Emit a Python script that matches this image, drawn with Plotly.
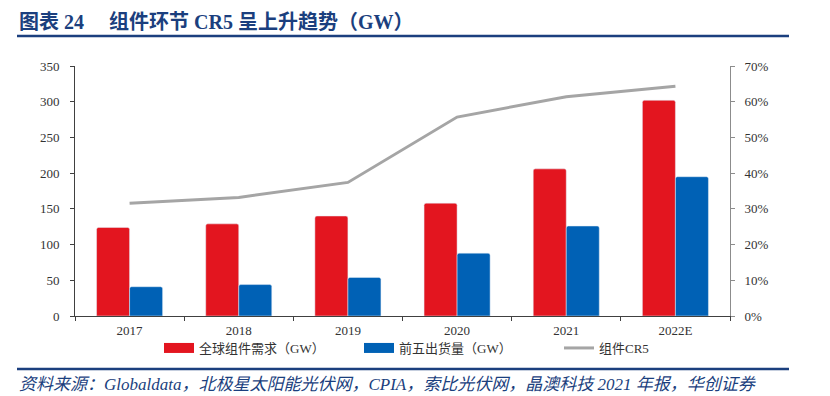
import plotly.graph_objects as go

years = ["2017", "2018", "2019", "2020", "2021", "2022E"]
demand = [124, 129, 140, 158, 206, 302]        # 全球组件需求（GW）
top5 = [41, 44, 54, 88, 126, 195]              # 前五出货量（GW）
cr5 = [0.316, 0.332, 0.374, 0.557, 0.614, 0.643]  # 组件CR5

name_demand = "全球组件需求（GW）"
name_top5 = "前五出货量（GW）"
name_cr5 = "组件CR5"

RED = "#E3151F"
BLUE = "#0061B5"
GRAY = "#A5A5A5"
NAVY = "#1B3F7E"
SERIF = "Liberation Serif, 'Noto Sans CJK SC', serif"

# page body has an 8px margin; positions below are in screenshot pixels
OFF = 8
W, H = 830 - OFF, 396 - OFF
L, R, T, B = 75 - OFF, 730 - OFF, 66 - OFF, 316 - OFF
def px(x):
    return (x - OFF - L) / (R - L)
def py(y):
    return (B - (y - OFF)) / (B - T)

fig = go.Figure()
fig.add_trace(go.Bar(x=years, y=demand, name=name_demand, marker=dict(color=RED, cornerradius=2),
                     showlegend=False))
fig.add_trace(go.Bar(x=years, y=top5, name=name_top5, marker=dict(color=BLUE, cornerradius=2),
                     showlegend=False))
fig.add_trace(go.Scatter(x=years, y=cr5, name=name_cr5, yaxis="y2", mode="lines",
                         line=dict(color=GRAY, width=3), showlegend=False))
# legend proxies (wide swatches like the original)
fig.add_trace(go.Scatter(x=[None], y=[None], name=name_demand, mode="lines",
                         line=dict(color=RED, width=10)))
fig.add_trace(go.Scatter(x=[None], y=[None], name=name_top5, mode="lines",
                         line=dict(color=BLUE, width=10)))
fig.add_trace(go.Scatter(x=[None], y=[None], name=name_cr5, mode="lines",
                         line=dict(color=GRAY, width=3)))

fig.update_layout(
    width=W, height=H,
    margin=dict(l=L, r=W - R, t=T, b=H - B, pad=0),
    paper_bgcolor="white", plot_bgcolor="white",
    barmode="group", bargap=0.395, bargroupgap=0,
    font=dict(family=SERIF, size=13, color="#333333"),
    xaxis=dict(showline=True, linecolor="#404040", linewidth=1, ticks="outside",
               tickson="boundaries", ticklen=4, tickcolor="#404040", ticklabelstandoff=2,
               tickfont=dict(size=13, color="#333333"), showgrid=False),
    yaxis=dict(range=[0, 350], dtick=50, showline=True, linecolor="#404040", linewidth=1,
               ticks="outside", ticklen=4, tickcolor="#404040", showgrid=False,
               zeroline=False, ticklabelstandoff=8, tickfont=dict(size=13, color="#333333")),
    yaxis2=dict(range=[0, 0.7], dtick=0.1, tickformat=".0%", overlaying="y", side="right",
                showline=True, linecolor="#8C8C8C", linewidth=1, ticks="outside", ticklen=4,
                tickcolor="#8C8C8C", showgrid=False, zeroline=False, ticklabelstandoff=7,
                tickfont=dict(size=13, color="#333333")),
    legend=dict(orientation="h", x=px(159), xanchor="left", y=py(348), yanchor="middle",
                font=dict(family=SERIF, size=13, color="#333333"), entrywidth=155,
                itemwidth=30, bgcolor="rgba(0,0,0,0)", tracegroupgap=0),
    showlegend=True,
)

fig.add_annotation(xref="paper", yref="paper", x=px(17), y=py(22), xanchor="left", yanchor="middle",
                   text="<b>图表 24　 组件环节 CR5 呈上升趋势（GW）</b>", showarrow=False,
                   font=dict(family="Liberation Serif, 'Noto Sans CJK SC'", size=20, color=NAVY))
fig.add_annotation(xref="paper", yref="paper", x=px(17), y=py(384), xanchor="left", yanchor="middle",
                   text="<i>资料来源：Globaldata，北极星太阳能光伏网，CPIA，索比光伏网，晶澳科技 2021 年报，华创证券</i>",
                   showarrow=False,
                   font=dict(family="Liberation Serif, 'Noto Sans CJK SC'", size=17, color=NAVY))
fig.add_shape(type="line", xref="paper", yref="paper", x0=px(17), x1=px(789), y0=py(36), y1=py(36),
              line=dict(color=NAVY, width=2.5))
fig.add_shape(type="line", xref="paper", yref="paper", x0=px(17), x1=px(789), y0=py(369), y1=py(369),
              line=dict(color=NAVY, width=2.5))

fig.write_html("out.html")
